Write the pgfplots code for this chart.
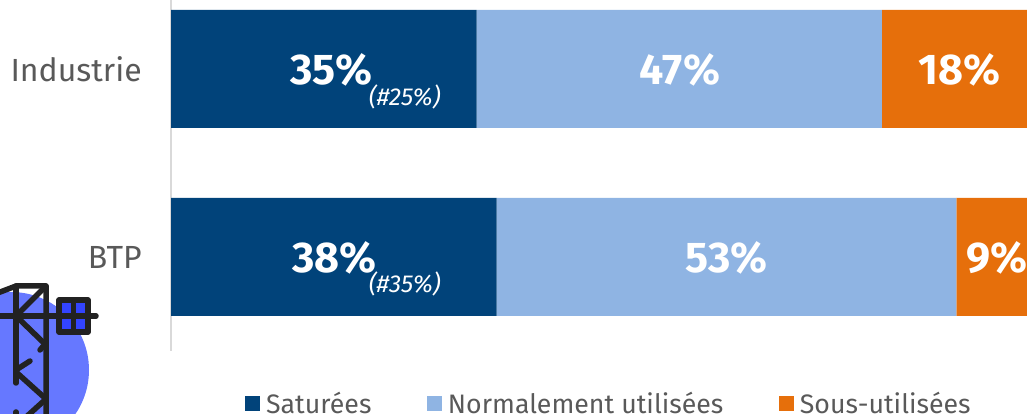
\documentclass[border=0pt]{standalone}
\usepackage{fontspec}
\setmainfont{Fira Sans}
\usepackage{pgfplots}
\pgfplotsset{compat=1.18}
\definecolor{navy}{HTML}{01437A}
\definecolor{lightb}{HTML}{8FB4E3}
\definecolor{orangeb}{HTML}{E66F0B}
\definecolor{txt}{HTML}{595959}
\definecolor{axisg}{HTML}{D9D9D9}
\definecolor{circ}{HTML}{6678FF}
\definecolor{boxb}{HTML}{3344FF}
\definecolor{ink}{HTML}{222222}
\newcommand{\pct}[1]{\fontsize{43pt}{43pt}\selectfont\bfseries #1}
\newcommand{\sub}[1]{\fontsize{24.5pt}{25pt}\selectfont\itshape #1}
\newcommand{\barlabels}{%
\node[text=white,yshift=-1pt] at (axis cs:18.5,1) {\pct{35\%}};
\node[text=white,yshift=-1pt] at (axis cs:58.8,1) {\pct{47\%}};
\node[text=white,yshift=-1pt] at (axis cs:91.0,1) {\pct{18\%}};
\node[text=white,yshift=-1pt] at (axis cs:18.9,0) {\pct{38\%}};
\node[text=white,yshift=-1pt] at (axis cs:64.2,0) {\pct{53\%}};
\node[text=white,yshift=-1pt] at (axis cs:95.4,0) {\pct{9\%}};
\node[text=white] at (axis cs:27.0,0.85) {\sub{(\#25\%)}};
\node[text=white] at (axis cs:27.0,-0.145) {\sub{(\#35\%)}};
}
\begin{document}
\begin{tikzpicture}[x=1pt,y=1pt]
\clip (0,0) rectangle (1027,414);
\begin{scope}[yshift=414pt,y=-1pt]
\fill[circ] (11,370) circle (78);
\begin{scope}[draw=ink,line width=5.5pt,line cap=round,line join=round]
\draw (-5,294) -- (16,286) -- (46,286) -- (46,420);
\draw (16,286) -- (16,383);
\draw (16,412) -- (16,420);
\draw (16,316) -- (46,286);
\draw (-5,316) -- (96,316);
\draw (16,316) -- (46,345);
\draw (40,350) -- (46,343);
\draw (16,370) -- (30,361);
\draw (16,372) -- (46,399) -- (25,418);
\filldraw[fill=boxb] (59,300) rectangle (88,332);
\draw (73.5,300) -- (73.5,332);
\draw (59,316) -- (88,316);
\end{scope}
\end{scope}
\begin{axis}[
  at={(171pt,63pt)},anchor=south west,
  scale only axis,width=856pt,height=376pt,
  xbar stacked,bar width=118pt,
  xmin=0,xmax=98.85,ymin=-0.5,ymax=1.5,
  axis x line=none,axis y line=left,
  axis line style={draw=axisg,line width=2pt,-},
  ytick={0,1},yticklabels={BTP,Industrie},
  major tick length=0pt,
  yticklabel shift=29pt,
  y tick label style={font=\fontsize{32pt}{32pt}\selectfont,text=txt,inner sep=0pt},
  clip mode=individual,
  after end axis/.code={\barlabels},
  legend columns=3,
  legend image code/.code={\fill[#1] (0pt,-7.5pt) rectangle (15pt,7.5pt);},
  legend style={at={(0.0864,-0.1395)},anchor=west,draw=none,fill=none,inner sep=0pt,
    font=\fontsize{26.7pt}{27pt}\selectfont,text=txt,
    /tikz/every even column/.style={column sep=53.5pt},
    /tikz/every odd column/.style={column sep=4pt},
    row sep=0pt},
]
\addplot[draw=none,fill=navy] coordinates {(37.6,0) (35.3,1)};
\addplot[draw=none,fill=lightb] coordinates {(53.1,0) (46.8,1)};
\addplot[draw=none,fill=orangeb] coordinates {(9.3,0) (17.9,1)};
\legend{Saturées,Normalement utilisées,Sous-utilisées}
\end{axis}
\end{tikzpicture}
\end{document}
